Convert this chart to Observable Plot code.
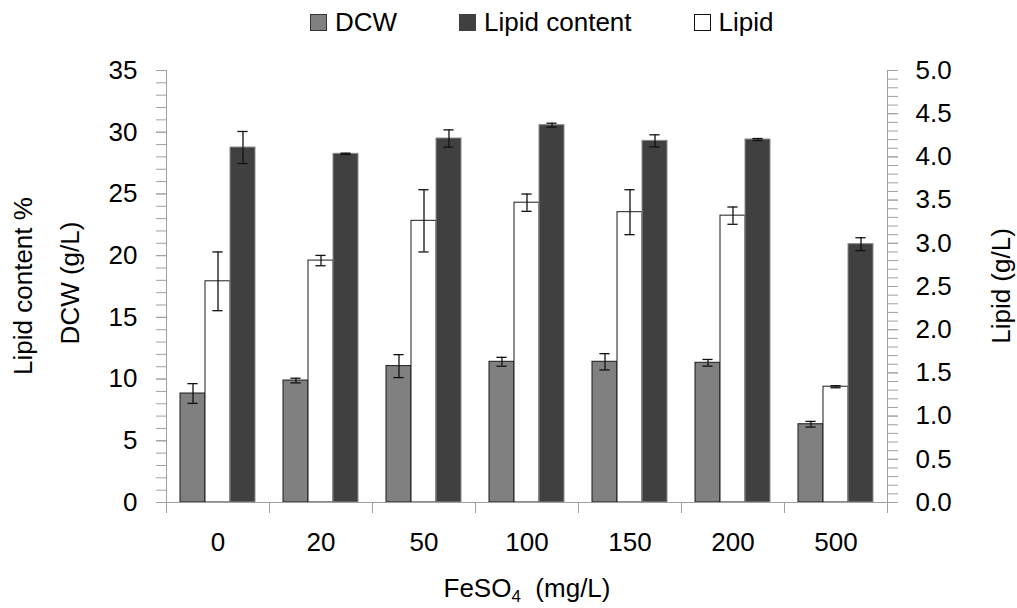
<!DOCTYPE html>
<html><head><meta charset="utf-8">
<script src="https://cdn.jsdelivr.net/npm/d3@7"></script>
<script src="https://cdn.jsdelivr.net/npm/@observablehq/plot@0.6"></script>
<style>
body{margin:0;background:#fff;font-family:"Liberation Sans",Arial,sans-serif;color:#000;}
#wrap{position:relative;width:1017px;height:608px;overflow:hidden;}
#wrap svg{position:absolute;left:0;top:0;}
.lg{position:absolute;top:9px;left:310px;display:flex;align-items:center;font-size:26px;line-height:26px;gap:62px;}
.it{display:flex;align-items:center;}
.sw{width:15px;height:15px;margin-right:8px;box-sizing:content-box;}
.ttl{position:absolute;font-size:26px;line-height:26px;white-space:nowrap;}
.rot{transform:translate(-50%,-50%) rotate(-90deg);}
</style></head><body><div id="wrap"></div><script>
// ---- data ----
const groups = ["0","20","50","100","150","200","500"];           // FeSO4 (mg/L)
const dcw = [8.83, 9.88, 11.05, 11.40, 11.40, 11.32, 6.34];          // DCW (g/L), left axis
const dcwErr = [0.80, 0.19, 0.93, 0.36, 0.66, 0.27, 0.23];
const lipid = [2.56, 2.80, 3.26, 3.47, 3.36, 3.32, 1.34];             // Lipid (g/L), right axis
const lipidErr = [0.34, 0.06, 0.36, 0.10, 0.26, 0.10, 0.012];
const lipidContent = [28.76, 28.25, 29.49, 30.57, 29.30, 29.41, 20.93]; // Lipid content %, left axis
const lipidContentErr = [1.30, 0.05, 0.70, 0.16, 0.49, 0.08, 0.52];
const leftTicks = [0,5,10,15,20,25,30,35];
const rightTicks = [0,0.5,1,1.5,2,2.5,3,3.5,4,4.5,5];
const series = ["DCW","Lipid","Lipid content"];

// ---- layout / style ----
const W = 1017, H = 608, mL = 166, mR = 130, mT = 70, mB = 106;
const K = 35 / 5; // right axis (0–5) mapped onto left axis (0–35)
const axisColor = "#a0a0a0";
const font = '"Liberation Sans", Arial, sans-serif';

const rows = groups.flatMap((g, i) => [
  {g, s: "DCW", v: dcw[i], e: dcwErr[i]},
  {g, s: "Lipid", v: lipid[i] * K, e: lipidErr[i] * K},
  {g, s: "Lipid content", v: lipidContent[i], e: lipidContentErr[i]}
]);
const styleOf = {
  "DCW": {fill: "#808080", stroke: "#1a1a1a"},
  "Lipid": {fill: "#ffffff", stroke: "#1a1a1a"},
  "Lipid content": {fill: "#404040", stroke: "#8a8a8a"}
};

const bars = series.map(s => Plot.barY(rows.filter(d => d.s === s), {
  fx: "g", x: "s", y: "v", fill: styleOf[s].fill, stroke: styleOf[s].stroke, strokeWidth: 1
}));

const chart = Plot.plot({
  width: W, height: H,
  marginLeft: mL, marginRight: mR, marginTop: mT, marginBottom: mB,
  style: {fontFamily: font, fontSize: "26px", color: "#000", background: "transparent", overflow: "visible"},
  fx: {domain: groups, padding: 0, label: null},
  x: {domain: series, paddingInner: 0, paddingOuter: 0.525, axis: null},
  y: {domain: [0, 35]},
  marks: [
    ...bars,
    Plot.ruleX(rows, {fx: "g", x: "s", y1: d => d.v - d.e, y2: d => d.v + d.e, stroke: "#111", strokeWidth: 1.3}),
    Plot.tickY(rows, {fx: "g", x: "s", y: d => d.v + d.e, stroke: "#111", strokeWidth: 1.3, insetLeft: 7.4, insetRight: 7.4}),
    Plot.tickY(rows, {fx: "g", x: "s", y: d => d.v - d.e, stroke: "#111", strokeWidth: 1.3, insetLeft: 7.4, insetRight: 7.4}),
    // baseline and axis lines
    Plot.ruleY([0], {stroke: axisColor}),
    Plot.frame({anchor: "left", insetTop: H - mT - mB, insetBottom: -10, stroke: axisColor}),
    Plot.frame({anchor: "left", facetAnchor: "left", insetBottom: -10, stroke: axisColor}),
    Plot.frame({anchor: "right", facetAnchor: "right", insetBottom: -10, stroke: axisColor}),
    // left axis
    Plot.axisY({anchor: "left", ticks: d3.range(0, 36), tickSize: 10, tickFormat: () => "", stroke: axisColor, label: null}),
    Plot.axisY({anchor: "left", ticks: leftTicks, tickSize: 10, tickPadding: 19, stroke: axisColor, fill: "#000", fontSize: 26, label: null}),
    // right axis
    Plot.axisY({anchor: "right", ticks: d3.range(0, 51).map(i => i * 0.1 * K), tickSize: 10, tickFormat: () => "", stroke: axisColor, label: null}),
    Plot.axisY({anchor: "right", ticks: rightTicks.map(v => v * K), tickFormat: d => (d / K).toFixed(1), tickSize: 10, tickPadding: 18, stroke: axisColor, fill: "#000", fontSize: 26, label: null}),
    // category labels
    Plot.axisFx({anchor: "bottom", tickSize: 0, tickPadding: 30, fill: "#000", fontSize: 26, label: null})
  ]
});

const wrap = document.getElementById("wrap");
wrap.appendChild(chart);

// legend
const lg = document.createElement("div");
lg.className = "lg";
const legendItems = [
  {name: "DCW", fill: "#808080", border: "#333"},
  {name: "Lipid content", fill: "#404040", border: "#404040"},
  {name: "Lipid", fill: "#ffffff", border: "#111"}
];
for (const it of legendItems) {
  const d = document.createElement("div");
  d.className = "it";
  const sw = document.createElement("span");
  sw.className = "sw";
  sw.style.background = it.fill;
  sw.style.border = "1px solid " + it.border;
  const t = document.createElement("span");
  t.textContent = it.name;
  d.appendChild(sw); d.appendChild(t);
  lg.appendChild(d);
}
wrap.appendChild(lg);

// axis titles
function title(html, x, y, rotate) {
  const d = document.createElement("div");
  d.className = "ttl" + (rotate ? " rot" : "");
  d.innerHTML = html;
  d.style.left = x + "px";
  d.style.top = y + "px";
  if (!rotate) d.style.transform = "translateX(-50%)";
  wrap.appendChild(d);
}
title("Lipid content %", 23, 286, true);
title("DCW (g/L)", 70, 283, true);
title("Lipid (g/L)", 1001, 286, true);
title('FeSO<sub style="font-size:17px;line-height:0;vertical-align:-5px">4</sub>&nbsp; (mg/L)', 527, 575, false);
</script></body></html>
